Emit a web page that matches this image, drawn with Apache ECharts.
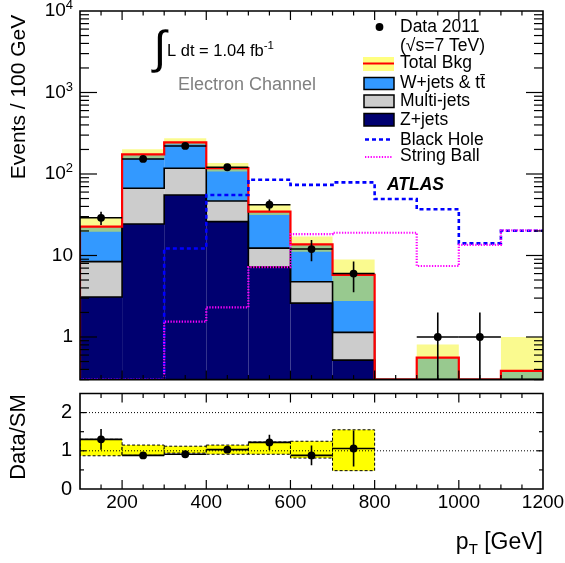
<!DOCTYPE html>
<html><head><meta charset="utf-8">
<script src="https://cdn.jsdelivr.net/npm/echarts/dist/echarts.min.js"></script>
<style>html,body{margin:0;padding:0;background:#fff}#c{width:565px;height:563px}</style>
</head><body><div id="c"></div>
<script>
// ---------------- data ----------------
const binEdges   = [100,200,300,400,500,600,700,800,900,1000,1100,1200];
const zJets      = [3.1, 24.3, 55.3, 26.0, 7.2, 2.6, 0.52, 0, 0, 0, 0];
const multiJets  = [5.3, 42.5, 62.2, 20.6, 5.1, 2.17, 0.62, 0, 0, 0, 0];
const wJets      = [14.2, 107.7, 127.5, 71.4, 22.2, 8.9, 4.63, 0, 0.557, 0, 0.383];
const bkgBandLow = [19.5, 153.6, 230, 107, 31.4, 11.1, 2.77, 0, 0, 0, 0];
const bkgBandHigh= [29.3, 200.7, 275, 136, 42.4, 17.1, 8.9, 0, 0.81, 0, 1.0];
const blackHole  = [0, 0, 12.2, 55.3, 85, 73.5, 79, 49.3, 36.9, 14.1, 20.1];
const stringBall = [0, 0, 1.54, 2.31, 7.2, 18.3, 19.0, 19.0, 7.43, 13.5, 20.3];
const dataCounts = [29, 153, 221, 121, 42, 12, 6, 0, 1, 1, 0];
const dataErr    = [5.4, 12.4, 14.9, 11.0, 6.5, 3.5, 2.45, 0, 1, 1, 0];
const ratioValues   = [1.30, 0.88, 0.91, 1.03, 1.22, 0.88, 1.06];
const ratioErr      = [0.27, 0.07, 0.06, 0.09, 0.20, 0.26, 0.47];
const ratioBandLow  = [0.87, 0.88, 0.94, 0.91, 0.91, 0.81, 0.48];
const ratioBandHigh = [1.30, 1.15, 1.12, 1.15, 1.23, 1.25, 1.55];
const yDecadeLabels = [1, 10, 100, 1000, 10000];
const xTickLabels   = [200, 400, 600, 800, 1000, 1200];
const ratioTickLabels = [0, 1, 2];

// ---------------- helpers ----------------
const FONT = "'Liberation Sans', Arial, Helvetica, sans-serif";
const nb = binEdges.length - 1;
const zTop = zJets.map((v,i)=>v);
const mTop = zJets.map((v,i)=>v + multiJets[i]);
const totTop = zJets.map((v,i)=>v + multiJets[i] + wJets[i]);
const C_NAVY = '#000070', C_GRAY = '#cccccc', C_BLUE = '#3399ff';
const C_BAND = 'rgba(245,245,40,0.52)';

function yPix(api, cs, v) {
  const bottom = cs.y + cs.height;
  if (!(v > 0)) return bottom;
  return Math.min(api.coord([binEdges[0], v])[1], bottom);
}
function xPix(api, x) { return api.coord([x, 1])[0]; }

function fillSeries(lower, upper, color) {
  return {
    type: 'custom', xAxisIndex: 0, yAxisIndex: 0, clip: true, silent: true,
    data: [[binEdges[0], 1]],
    renderItem(params, api) {
      const cs = params.coordSys, ch = [];
      for (let i = 0; i < nb; i++) {
        const up = upper[i], lo = lower ? lower[i] : 0;
        if (!(up > 0) || up <= lo) continue;
        const x0 = xPix(api, binEdges[i]), x1 = xPix(api, binEdges[i+1]);
        const y0 = yPix(api, cs, up), y1 = yPix(api, cs, lo);
        ch.push({type:'rect', shape:{x:x0, y:y0, width:x1-x0, height:y1-y0}, style:{fill:color}});
      }
      return {type:'group', children: ch};
    }
  };
}
function stepSeries(vals, stroke, lw, dash, ends) {
  return {
    type: 'custom', xAxisIndex: 0, yAxisIndex: 0, clip: true, silent: true,
    data: [[binEdges[0], 1]],
    renderItem(params, api) {
      const cs = params.coordSys, pts = [];
      const bottom = cs.y + cs.height;
      for (let i = 0; i < nb; i++) {
        const x0 = xPix(api, binEdges[i]), x1 = xPix(api, binEdges[i+1]);
        const y = yPix(api, cs, vals[i]);
        pts.push([x0, y], [x1, y]);
      }
      if (ends) { pts.unshift([pts[0][0], bottom]); pts.push([pts[pts.length-1][0], bottom]); }
      const st = {stroke: stroke, lineWidth: lw, fill: 'none'};
      if (dash) st.lineDash = dash;
      return {type:'polyline', shape:{points: pts}, style: st};
    }
  };
}
function frameSeries(xi, yi, yTicks, xMaj, xMin, yMaj, yMin, refY) {
  return {
    type: 'custom', xAxisIndex: xi, yAxisIndex: yi, clip: false, silent: true, z: 10,
    data: [[binEdges[0], refY]],
    renderItem(params, api) {
      const cs = params.coordSys, ch = [];
      const L = cs.x, R = cs.x + cs.width, T = cs.y, B = cs.y + cs.height;
      const ls = {stroke:'#000', lineWidth:1.2};
      for (let v = 150; v < 1200; v += 50) {
        const x = api.coord([v, refY])[0];
        const len = (v % 200 === 0) ? xMaj : xMin;
        ch.push({type:'line', shape:{x1:x, y1:B, x2:x, y2:B-len}, style:ls});
        ch.push({type:'line', shape:{x1:x, y1:T, x2:x, y2:T+len}, style:ls});
      }
      yTicks.forEach(t => {
        const y = api.coord([binEdges[0], t.v])[1];
        const len = t.major ? yMaj : yMin;
        ch.push({type:'line', shape:{x1:L, y1:y, x2:L+len, y2:y}, style:ls});
        ch.push({type:'line', shape:{x1:R, y1:y, x2:R-len, y2:y}, style:ls});
      });
      ch.push({type:'rect', shape:{x:L, y:T, width:R-L, height:B-T}, style:{stroke:'#000', lineWidth:1.6, fill:'none'}});
      return {type:'group', children: ch};
    }
  };
}

// log ticks
const logTicks = [];
for (let e = -1; e <= 3; e++) {
  for (let k = 1; k <= 9; k++) {
    const v = k * Math.pow(10, e);
    if (v < 0.3 - 1e-9 || v > 10000) continue;
    if (k === 1 && e >= 0) logTicks.push({v, major:true});
    else if (k > 1 || e < 0) logTicks.push({v, major:false});
  }
}
const ratioTicks = [{v:0.5,major:false},{v:1,major:true},{v:1.5,major:false},{v:2,major:true}];

const series = [
  fillSeries(null, zTop, C_NAVY),
  fillSeries(zTop, mTop, C_GRAY),
  fillSeries(mTop, totTop, C_BLUE),
  fillSeries(bkgBandLow, bkgBandHigh, C_BAND),
  stepSeries(zTop, '#000', 1.6, null, false),
  stepSeries(mTop, '#000', 1.6, null, false),
  stepSeries(totTop, '#ff0000', 2.2, null, true),
  stepSeries(blackHole, '#0000ff', 2.6, [4, 3], false),
  stepSeries(stringBall, '#ff00ff', 2.2, [1.3, 1.5], false),
  { // data points
    type: 'custom', xAxisIndex: 0, yAxisIndex: 0, clip: true, silent: true, z: 5,
    data: [[binEdges[0], 1]],
    renderItem(params, api) {
      const cs = params.coordSys, ch = [];
      const ls = {stroke:'#000', lineWidth:1.6};
      for (let i = 0; i < nb; i++) {
        const n = dataCounts[i];
        if (!(n > 0)) continue;
        const x0 = xPix(api, binEdges[i]), x1 = xPix(api, binEdges[i+1]), xc = (x0+x1)/2;
        const y = yPix(api, cs, n), yh = yPix(api, cs, n + dataErr[i]), yl = yPix(api, cs, n - dataErr[i]);
        ch.push({type:'line', shape:{x1:x0, y1:y, x2:x1, y2:y}, style:ls});
        ch.push({type:'line', shape:{x1:xc, y1:yh, x2:xc, y2:yl}, style:ls});
        ch.push({type:'circle', shape:{cx:xc, cy:y, r:3.9}, style:{fill:'#000'}});
      }
      return {type:'group', children: ch};
    }
  },
  frameSeries(0, 0, logTicks, 9, 4.5, 17, 9, 1),
  { // ratio band
    type: 'custom', xAxisIndex: 1, yAxisIndex: 1, clip: true, silent: true,
    data: [[binEdges[0], 0]],
    renderItem(params, api) {
      const ch = [];
      for (let i = 0; i < ratioBandLow.length; i++) {
        const x0 = api.coord([binEdges[i], 0])[0], x1 = api.coord([binEdges[i+1], 0])[0];
        const yt = api.coord([binEdges[i], ratioBandHigh[i]])[1], yb = api.coord([binEdges[i], ratioBandLow[i]])[1];
        ch.push({type:'rect', shape:{x:x0, y:yt, width:x1-x0, height:yb-yt}, style:{fill:'#ffff00', stroke:'#000', lineWidth:1, lineDash:[3,2]}});
      }
      return {type:'group', children: ch};
    }
  },
  { // ratio reference lines
    type: 'custom', xAxisIndex: 1, yAxisIndex: 1, clip: true, silent: true,
    data: [[binEdges[0], 0]],
    renderItem(params, api) {
      const cs = params.coordSys, ch = [];
      [1, 2].forEach(r => {
        const y = api.coord([binEdges[0], r])[1];
        ch.push({type:'line', shape:{x1:cs.x, y1:y, x2:cs.x+cs.width, y2:y}, style:{stroke:'#000', lineWidth:1, lineDash:[1,2]}});
      });
      return {type:'group', children: ch};
    }
  },
  { // ratio data
    type: 'custom', xAxisIndex: 1, yAxisIndex: 1, clip: true, silent: true, z: 5,
    data: [[binEdges[0], 0]],
    renderItem(params, api) {
      const ch = [];
      const ls = {stroke:'#000', lineWidth:1.6};
      for (let i = 0; i < ratioValues.length; i++) {
        const x0 = api.coord([binEdges[i], 0])[0], x1 = api.coord([binEdges[i+1], 0])[0], xc = (x0+x1)/2;
        const y = api.coord([binEdges[i], ratioValues[i]])[1];
        const yh = api.coord([binEdges[i], ratioValues[i] + ratioErr[i]])[1];
        const yl = api.coord([binEdges[i], ratioValues[i] - ratioErr[i]])[1];
        ch.push({type:'line', shape:{x1:x0, y1:y, x2:x1, y2:y}, style:ls});
        ch.push({type:'line', shape:{x1:xc, y1:yh, x2:xc, y2:yl}, style:ls});
        ch.push({type:'circle', shape:{cx:xc, cy:y, r:3.9}, style:{fill:'#000'}});
      }
      return {type:'group', children: ch};
    }
  },
  frameSeries(1, 1, ratioTicks, 9, 4.5, 6, 4, 0)
];

const supRich = {
  b: {fontSize: 19, fontFamily: FONT, color:'#000', lineHeight: 24},
  s: {fontSize: 13, fontFamily: FONT, color:'#000', lineHeight: 14, verticalAlign: 'top'}
};

const legendX = 400;
const legendText = (t, y) => ({type:'text', x: legendX, y: y, style:{text: t, font: '17.5px ' + FONT, fill:'#000', textAlign:'left', textVerticalAlign:'middle'}});

const graphic = [
  // titles
  {type:'text', x:19, y:97, rotation:Math.PI/2, style:{text:'Events / 100 GeV', font:'21px ' + FONT, fill:'#000', textAlign:'center', textVerticalAlign:'middle'}},
  {type:'text', x:19, y:437, rotation:Math.PI/2, style:{text:'Data/SM', font:'22px ' + FONT, fill:'#000', textAlign:'center', textVerticalAlign:'middle'}},
  {type:'text', x:543, y:543, style:{text:'{a|p}{t|T}{a| [GeV]}', textAlign:'right', textVerticalAlign:'middle',
    rich:{a:{fontSize:23, fontFamily:FONT, color:'#000', lineHeight:28}, t:{fontSize:15, fontFamily:FONT, color:'#000', lineHeight:16, verticalAlign:'bottom'}}}},
  // integral
  {type:'text', x:160, y:50, style:{text:'\u222B', font:'46px ' + FONT, fill:'#000', textAlign:'center', textVerticalAlign:'middle'}},
  {type:'text', x:167, y:51, style:{text:'{m|L dt = 1.04 fb}{s|-1}', textAlign:'left', textVerticalAlign:'middle',
    rich:{m:{fontSize:16.5, fontFamily:FONT, color:'#000', lineHeight:22}, s:{fontSize:11.5, fontFamily:FONT, color:'#000', lineHeight:12, verticalAlign:'top'}}}},
  {type:'text', x:178, y:85, style:{text:'Electron Channel', font:'18px ' + FONT, fill:'#808080', textAlign:'left', textVerticalAlign:'middle'}},
  {type:'text', x:387, y:185, style:{text:'ATLAS', font:'italic bold 17.5px ' + FONT, fill:'#000', textAlign:'left', textVerticalAlign:'middle'}},
  // legend
  {type:'circle', shape:{cx:379.5, cy:27, r:3.9}, style:{fill:'#000'}},
  legendText('Data 2011', 27.5),
  legendText('(\u221As=7 TeV)', 46.5),
  {type:'rect', shape:{x:363, y:57, width:31, height:14}, style:{fill:'rgba(255,255,60,0.65)'}},
  {type:'line', shape:{x1:363, y1:63.5, x2:394, y2:63.5}, style:{stroke:'#ff0000', lineWidth:2}},
  legendText('Total Bkg', 63.5),
  {type:'rect', shape:{x:364, y:77.5, width:30, height:12}, style:{fill:C_BLUE, stroke:'#000', lineWidth:1.5}},
  legendText('W+jets & tt\u0304', 83.5),
  {type:'rect', shape:{x:364, y:95, width:30, height:12.5}, style:{fill:C_GRAY, stroke:'#000', lineWidth:1.5}},
  legendText('Multi-jets', 101.5),
  {type:'rect', shape:{x:364, y:113.5, width:30, height:12.5}, style:{fill:C_NAVY, stroke:'#000', lineWidth:1.5}},
  legendText('Z+jets', 120),
  {type:'line', shape:{x1:365, y1:139.5, x2:393, y2:139.5}, style:{stroke:'#0000ff', lineWidth:2.6, lineDash:[4,3]}},
  legendText('Black Hole', 140),
  {type:'line', shape:{x1:365, y1:157, x2:393, y2:157}, style:{stroke:'#ff00ff', lineWidth:2.2, lineDash:[1.3,1.5]}},
  legendText('String Ball', 156.5)
];

const option = {
  animation: false,
  backgroundColor: '#fff',
  grid: [
    {left:80, right:22, top:11, height:368.6, containLabel:false, outerBoundsMode:'none'},
    {left:80, right:22, top:393.5, height:95.5, containLabel:false, outerBoundsMode:'none'}
  ],
  xAxis: [
    {gridIndex:0, type:'value', min:100, max:1200, interval:100,
     axisLabel:{show:false}, axisLine:{show:false}, axisTick:{show:false}, splitLine:{show:false}},
    {gridIndex:1, type:'value', min:100, max:1200, interval:100,
     axisLabel:{show:true, margin:4, color:'#000', fontSize:19, fontFamily:FONT, showMaxLabel:true, showMinLabel:true,
       hideOverlap:false,
       formatter: v => xTickLabels.indexOf(Math.round(v)) >= 0 ? String(Math.round(v)) : ''},
     axisLine:{show:false}, axisTick:{show:false}, splitLine:{show:false}}
  ],
  yAxis: [
    {gridIndex:0, type:'log', logBase:10, min:0.3, max:10000,
     axisLabel:{show:true, margin:7, color:'#000', fontSize:19, fontFamily:FONT, showMaxLabel:true, showMinLabel:true,
       hideOverlap:false, rich: supRich,
       formatter: v => {
         const e = Math.round(Math.log10(v));
         const d = yDecadeLabels.find(x => Math.abs(x - v) / x < 1e-6);
         if (d === undefined) return '';
         if (e <= 1) return '{b|' + d + '}';
         return '{b|10}{s|' + e + '}';
       }},
     axisLine:{show:false}, axisTick:{show:false}, splitLine:{show:false}},
    {gridIndex:1, type:'value', min:0, max:2.5, interval:1,
     axisLabel:{show:true, margin:8, color:'#000', fontSize:20, fontFamily:FONT, showMaxLabel:true, hideOverlap:false,
       formatter: v => ratioTickLabels.indexOf(v) >= 0 ? String(v) : ''},
     axisLine:{show:false}, axisTick:{show:false}, splitLine:{show:false}}
  ],
  series: series,
  graphic: graphic
};

const chart = echarts.init(document.getElementById('c'));
chart.setOption(option);
</script>
</body></html>
